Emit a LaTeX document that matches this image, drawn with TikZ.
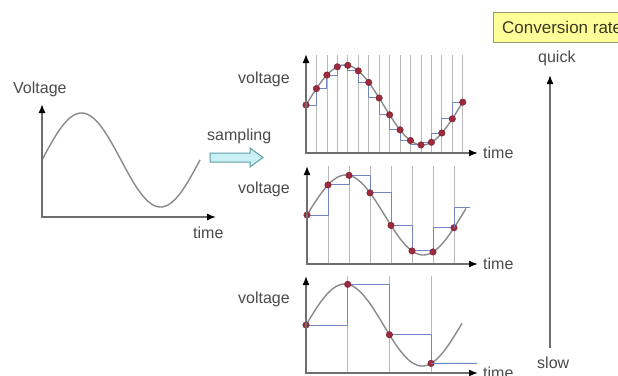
\documentclass[tikz,border=0pt]{standalone}
\usepackage{fontspec}
\setmainfont{Liberation Sans}
\usetikzlibrary{arrows.meta}
\definecolor{axisgray}{HTML}{6E6E6E}
\definecolor{curvegray}{HTML}{8A8A8A}
\definecolor{samplegray}{HTML}{B8B8B8}
\definecolor{stepblue}{HTML}{7286C4}
\definecolor{dotred}{HTML}{9E2A3C}
\definecolor{labelgray}{HTML}{4A4A4A}
\definecolor{boxyellow}{HTML}{FFFF99}
\definecolor{boxborder}{HTML}{9A9A6A}
\definecolor{boxtext}{HTML}{3A3A20}
\definecolor{arrowfill}{HTML}{C9F1F5}
\definecolor{arrowdraw}{HTML}{5E9CA6}
\begin{document}
\begin{tikzpicture}[x=1pt,y=-1pt,
  axispair/.style={draw=axisgray, line width=1.4pt, {Latex[length=9pt,width=7pt,color=black]}-{Latex[length=9pt,width=7pt,color=black]}},
  axisline/.style={draw=axisgray, line width=1.4pt, -{Latex[length=9pt,width=7pt,color=black]}},
  wave/.style={draw=curvegray, line width=1.4pt},
  sampleline/.style={draw=samplegray, line width=0.8pt},
  stepline/.style={draw=stepblue, line width=1pt},
  sampledot/.style={circle, fill=dotred, draw=dotred!70!black, line width=0.4pt, inner sep=0pt, minimum size=6.5pt},
  lbl/.style={font=\fontsize{16}{19}\selectfont, text=labelgray, anchor=base west, inner sep=0pt},
]
\useasboundingbox (0,0) rectangle (618,375);
\fill[white] (0,0) rectangle (618,375);

% ---------- left graph ----------
\coordinate (Lo) at (42,217);
\coordinate (Ly) at (42,104);
\coordinate (Lx) at (216,217);
\draw[wave] plot[domain=42:200, samples=100, smooth] (\x, {160-47*sin((360/158)*(\x-42))});
\draw[axispair] (Ly) -- (Lo) -- (Lx);
\node[lbl] (Lvolt) at (13,93) {Voltage};
\node[lbl] (Ltime) at (193,238) {time};

% ---------- sampling arrow ----------
\node[lbl] (samp) at (207,140) {sampling};
\filldraw[fill=arrowfill, draw=arrowdraw, line width=1pt]
  (210,153) -- (250,153) -- (250,148) -- (263,157.5) -- (250,167) -- (250,162) -- (210,162) -- cycle;

% ---------- top graph (fast sampling) ----------
\foreach \k in {1,...,15} {
  \draw[sampleline] ({306+10.45*\k},153) -- ({306+10.45*\k},55);
}
\draw[wave] plot[domain=306:463, samples=100, smooth] (\x, {105-40*sin((360/155)*(\x-306))});
\foreach \k in {0,...,14} {
  \pgfmathsetmacro\xa{306+10.45*\k}
  \pgfmathsetmacro\xb{\xa+10.45}
  \pgfmathsetmacro\ya{105-40*sin((360/155)*(\xa-306))}
  \pgfmathsetmacro\yb{105-40*sin((360/155)*(\xb-306))}
  \pgfmathsetmacro\vv{ifthenelse(\k<3,\ya,\yb)}
  \draw[stepline] (\xa,\ya) -- (\xa,\vv) -- (\xb,\vv) -- (\xb,\yb);
}
\foreach \k in {0,...,15} {
  \pgfmathsetmacro\xa{306+10.45*\k}
  \pgfmathsetmacro\ya{105-40*sin((360/155)*(\xa-306))}
  \node[sampledot] (t\k) at (\xa,\ya) {};
}
\coordinate (To) at (306,153);
\coordinate (Ty) at (306,54);
\coordinate (Tx) at (478,153);
\draw[axispair] (Ty) -- (To) -- (Tx);
\node[lbl] (Tvolt) at (238,83) {voltage};
\node[lbl] (Ttime) at (483,158) {time};

% ---------- middle graph ----------
\foreach \k in {1,...,7} {
  \draw[sampleline] ({307+21*\k},264) -- ({307+21*\k},166);
}
\draw[wave] plot[domain=307:466, samples=100, smooth] (\x, {215-40*sin((360/155)*(\x-307))});
\foreach \k in {0,...,6} {
  \pgfmathsetmacro\xa{307+21*\k}
  \pgfmathsetmacro\xb{\xa+21}
  \pgfmathsetmacro\ya{215-40*sin((360/155)*(\xa-307))}
  \pgfmathsetmacro\yb{215-40*sin((360/155)*(\xb-307))}
  \pgfmathsetmacro\vv{ifthenelse(\k<6,\ya,\yb)}
  \draw[stepline] (\xa,\ya) -- (\xa,\vv) -- (\xb,\vv) -- (\xb,\yb);
}
\foreach \k in {0,...,7} {
  \pgfmathsetmacro\xa{307+21*\k}
  \pgfmathsetmacro\ya{215-40*sin((360/155)*(\xa-307))}
  \node[sampledot] (m\k) at (\xa,\ya) {};
}
\coordinate (mtail) at (470,207);
\draw[stepline] (m7.center) -- (m7.center |- mtail) -- (mtail);
\coordinate (Mo) at (307,264);
\coordinate (My) at (307,166);
\coordinate (Mx) at (478,264);
\draw[axispair] (My) -- (Mo) -- (Mx);
\node[lbl] (Mvolt) at (238,193) {voltage};
\node[lbl] (Mtime) at (483,269) {time};

% ---------- bottom graph ----------
\foreach \k in {1,...,3} {
  \draw[sampleline] ({306+41.7*\k},373) -- ({306+41.7*\k},276);
}
\draw[wave] plot[domain=306:462, samples=100, smooth] (\x, {325-41*sin((360/155)*(\x-306))});
\foreach \k in {0,...,2} {
  \pgfmathsetmacro\xa{306+41.7*\k}
  \pgfmathsetmacro\xb{\xa+41.7}
  \pgfmathsetmacro\ya{325-41*sin((360/155)*(\xa-306))}
  \pgfmathsetmacro\yb{325-41*sin((360/155)*(\xb-306))}
  \draw[stepline] (\xa,\ya) -- (\xb,\ya) -- (\xb,\yb);
}
\foreach \k in {0,...,3} {
  \pgfmathsetmacro\xa{306+41.7*\k}
  \pgfmathsetmacro\ya{325-41*sin((360/155)*(\xa-306))}
  \node[sampledot] (b\k) at (\xa,\ya) {};
}
\coordinate (btail) at (477,363.4);
\draw[stepline] (b3.center) -- (btail);
\coordinate (Bo) at (306,373);
\coordinate (By) at (306,276);
\coordinate (Bx) at (478,373);
\draw[axispair] (By) -- (Bo) -- (Bx);
\node[lbl] (Bvolt) at (238,303) {voltage};
\node[lbl] (Btime) at (483,378) {time};

% ---------- conversion rate ----------
\draw[fill=boxyellow, draw=boxborder, line width=1pt] (493,12) rectangle (630,42);
\node[font=\fontsize{17}{20}\selectfont, text=boxtext, anchor=west, inner sep=0pt] (conv) at (502,27) {Conversion rate};
\node[lbl] (quick) at (538,62) {quick};
\node[lbl] (slow) at (537,368) {slow};
\coordinate (slowpt) at (550,348);
\coordinate (quickpt) at (550,75);
\draw[axisline] (slowpt) -- (quickpt);
\end{tikzpicture}
\end{document}
